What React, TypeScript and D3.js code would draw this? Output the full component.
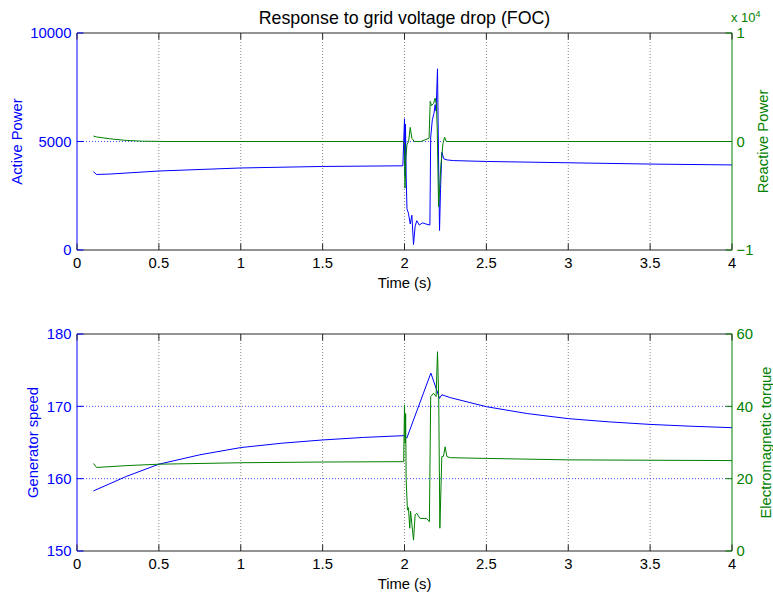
import * as d3 from 'd3';
import React from 'react';

// time axis ticks (s)
const timeTicks = [0, 0.5, 1, 1.5, 2, 2.5, 3, 3.5, 4];

// top panel: active power (left axis)
const activeTime = [0.1, 0.12, 0.2, 0.5, 1.0, 1.5, 1.99, 2.0, 2.003, 2.006, 2.01, 2.015, 2.024, 2.035, 2.045, 2.055, 2.065, 2.075, 2.09, 2.11, 2.13, 2.155, 2.16, 2.17, 2.18, 2.187, 2.193, 2.2015, 2.208, 2.214, 2.22, 2.228, 2.24, 2.26, 2.3, 2.5, 3.0, 3.5, 4.0];
const activePower = [3610, 3480, 3500, 3640, 3780, 3850, 3880, 6050, 3400, 5800, 3500, 1900, 1700, 1200, 1600, 250, 1100, 1350, 1150, 1250, 1200, 1150, 5200, 6000, 6300, 6700, 6400, 8350, 4200, 900, 2800, 4500, 4200, 4150, 4120, 4080, 4020, 3960, 3920];

// top panel: reactive power (right axis, x 10^4)
const reactiveTime = [0.1, 0.12, 0.2, 0.3, 0.4, 0.55, 1.99, 2.0, 2.003, 2.008, 2.015, 2.025, 2.035, 2.045, 2.06, 2.1, 2.15, 2.157, 2.165, 2.177, 2.187, 2.195, 2.2, 2.208, 2.214, 2.222, 2.235, 2.245, 2.255, 4.0];
const reactivePower = [500, 420, 250, 100, 30, 0, 0, -200, -4300, -1500, -300, 0, 1300, 300, 0, 0, 300, 3700, 3300, 3500, 4000, 3400, 1000, -6000, -4500, -2200, -200, 400, 0, 0];

// bottom panel: generator speed (left axis)
const speedTime = [0.1, 0.3, 0.5, 0.75, 1.0, 1.25, 1.5, 1.75, 2.0, 2.014, 2.161, 2.214, 2.228, 2.28, 2.5, 2.75, 3.0, 3.25, 3.5, 3.75, 4.0];
const genSpeed = [158.3, 160.3, 162.0, 163.3, 164.3, 164.9, 165.35, 165.7, 165.95, 165.6, 174.6, 171.1, 171.6, 171.2, 169.95, 169.0, 168.3, 167.85, 167.5, 167.25, 167.05];

// bottom panel: electromagnetic torque (right axis)
const torqueTime = [0.1, 0.12, 0.3, 0.5, 1.0, 1.5, 1.995, 2.0, 2.004, 2.007, 2.01, 2.018, 2.024, 2.032, 2.037, 2.055, 2.065, 2.075, 2.095, 2.135, 2.152, 2.16, 2.177, 2.193, 2.2015, 2.209, 2.216, 2.228, 2.238, 2.248, 2.259, 2.28, 2.5, 3.0, 4.0];
const emTorque = [24.2, 23.1, 23.6, 24.0, 24.4, 24.6, 24.7, 40.4, 29.8, 38, 20, 11.3, 12, 6.3, 11, 3.0, 10, 10.4, 9.0, 9.0, 8.1, 42.7, 43.6, 42.7, 55.1, 42, 6.3, 26.1, 26.2, 28.8, 26.1, 25.8, 25.6, 25.2, 25.0];

// axis ticks
const activeTicks = [0, 5000, 10000];
const reactiveTicks = [-10000, 0, 10000];
const speedTicks = [150, 160, 170, 180];
const torqueTicks = [0, 20, 40, 60];

const BLUE = '#0000ff';
const GREEN = '#008000';
const FONT = '"Liberation Sans", Arial, Helvetica, sans-serif';

const plotLeft = 77;
const plotRight = 732;

const x = d3.scaleLinear().domain([0, 4]).range([plotLeft, plotRight]);

function Panel(props: any) {
  const { top, bottom, leftDomain, rightDomain, leftTicks, rightTicks, rightFmt,
    leftLabel, rightLabel, leftLabelX, rightLabelX, blueT, blueV, greenT, greenV, hGrid } = props;

  const yL = d3.scaleLinear().domain(leftDomain).range([bottom, top]);
  const yR = d3.scaleLinear().domain(rightDomain).range([bottom, top]);
  const mid = (top + bottom) / 2;
  const tk = 6.5;

  const blueLine = d3.line<number>().x((d, i) => x(blueT[i])).y(d => yL(d));
  const greenLine = d3.line<number>().x((d, i) => x(greenT[i])).y(d => yR(d));

  return (
    <g>
      {/* vertical grid */}
      {timeTicks.slice(1, -1).map(t => (
        <line key={'vg' + t} x1={x(t)} x2={x(t)} y1={top} y2={bottom}
          stroke="#888" strokeWidth={1} strokeDasharray="1 2" />
      ))}
      {/* horizontal grid (left axis) */}
      {hGrid.map((v: number) => (
        <line key={'hg' + v} x1={plotLeft} x2={plotRight} y1={yL(v)} y2={yL(v)}
          stroke={BLUE} strokeOpacity={0.7} strokeWidth={1} strokeDasharray="1 2" />
      ))}

      <path d={blueLine(blueV) || ''} fill="none" stroke={BLUE} strokeWidth={1} />
      <path d={greenLine(greenV) || ''} fill="none" stroke={GREEN} strokeWidth={1} />

      {/* box */}
      <line x1={plotLeft} x2={plotRight} y1={top} y2={top} stroke="#262626" />
      <line x1={plotLeft} x2={plotRight} y1={bottom} y2={bottom} stroke="#262626" />
      <line x1={plotLeft} x2={plotLeft} y1={top} y2={bottom} stroke={BLUE} />
      <line x1={plotRight} x2={plotRight} y1={top} y2={bottom} stroke={GREEN} />

      {/* x ticks */}
      {timeTicks.map(t => (
        <g key={'xt' + t}>
          <line x1={x(t)} x2={x(t)} y1={bottom} y2={bottom - tk} stroke="#262626" />
          <line x1={x(t)} x2={x(t)} y1={top} y2={top + tk} stroke="#262626" />
          <text x={x(t)} y={bottom + 18} textAnchor="middle" fontSize={14.8} fill="#000">{d3.format('~g')(t)}</text>
        </g>
      ))}
      <text x={(plotLeft + plotRight) / 2} y={bottom + 38} textAnchor="middle" fontSize={14.8} fill="#000">Time (s)</text>

      {/* left axis */}
      {leftTicks.map((v: number) => (
        <g key={'lt' + v}>
          <line x1={plotLeft} x2={plotLeft + tk} y1={yL(v)} y2={yL(v)} stroke={BLUE} />
          <text x={plotLeft - 5.5} y={yL(v)} dy="0.36em" textAnchor="end" fontSize={14.8} fill={BLUE}>{v}</text>
        </g>
      ))}
      <text transform={`translate(${leftLabelX},${mid}) rotate(-90)`} textAnchor="middle" fontSize={14.8} fill={BLUE}>{leftLabel}</text>

      {/* right axis */}
      {rightTicks.map((v: number) => (
        <g key={'rt' + v}>
          <line x1={plotRight} x2={plotRight - tk} y1={yR(v)} y2={yR(v)} stroke={GREEN} />
          <text x={plotRight + 4.5} y={yR(v)} dy="0.36em" textAnchor="start" fontSize={14.8} fill={GREEN}>{rightFmt(v)}</text>
        </g>
      ))}
      <text transform={`translate(${rightLabelX},${mid}) rotate(-90)`} textAnchor="middle" fontSize={14.8} fill={GREEN}>{rightLabel}</text>
    </g>
  );
}

export default function App() {
  return (
    <svg width={773} height={594} style={{ position: 'absolute', left: 0, top: 0, display: 'block', background: '#fff' }}
      fontFamily={FONT}>
      <rect width={773} height={594} fill="#fff" />
      <text x={(plotLeft + plotRight) / 2} y={24} textAnchor="middle" fontSize={17.8} fill="#000">Response to grid voltage drop (FOC)</text>

      <Panel top={33} bottom={250} leftDomain={[0, 10000]} rightDomain={[-10000, 10000]}
        leftTicks={activeTicks} rightTicks={reactiveTicks} rightFmt={(v: number) => d3.format('d')(v / 10000)}
        leftLabel="Active Power" rightLabel="Reactive Power" leftLabelX={22} rightLabelX={767.5}
        blueT={activeTime} blueV={activePower} greenT={reactiveTime} greenV={reactivePower} hGrid={[5000]} />
      <text x={731} y={22} fontSize={13} fill={GREEN}>x 10<tspan dy={-5} fontSize={9}>4</tspan></text>

      <Panel top={334} bottom={551} leftDomain={[150, 180]} rightDomain={[0, 60]}
        leftTicks={speedTicks} rightTicks={torqueTicks} rightFmt={(v: number) => String(v)}
        leftLabel="Generator speed" rightLabel="Electromagnetic torque" leftLabelX={37.5} rightLabelX={770.5}
        blueT={speedTime} blueV={genSpeed} greenT={torqueTime} greenV={emTorque} hGrid={[160, 170]} />
    </svg>
  );
}
